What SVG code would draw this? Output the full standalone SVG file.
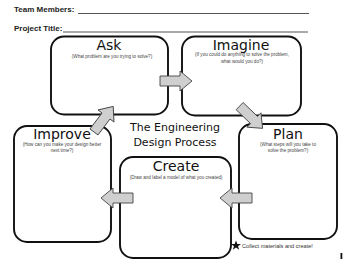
<svg xmlns="http://www.w3.org/2000/svg" width="350" height="268" viewBox="0 0 350 268">
<style>
.box{fill:#fff;stroke:#111;stroke-width:1.9}
.arr{fill:#cfcfcf;stroke:#444;stroke-width:0.9;stroke-linejoin:miter}
.hd{font-family:"Liberation Sans",Arial,sans-serif;font-size:8px;font-weight:bold;fill:#222}
.ttl{font-family:"DejaVu Sans","Liberation Sans",sans-serif;fill:#111;text-anchor:middle}
.sub{font-family:"Liberation Sans",Arial,sans-serif;font-size:4.6px;fill:#444;text-anchor:middle}
.ln{stroke:#555;stroke-width:1}
</style>
<defs>
<path id="ar" d="M0,-5 H-20 V5 H0 V10 L12,0 L0,-10 Z"/>
</defs>
<rect width="350" height="268" fill="#fff"/>
<g id="header">
<text class="hd" x="14" y="12">Team Members:</text>
<line class="ln" x1="78" y1="13.5" x2="309" y2="13.5"/>
<text class="hd" x="14" y="31">Project Title:</text>
<line class="ln" x1="63" y1="32" x2="308" y2="32"/>
</g>
<g id="ask">
<rect class="box" x="51" y="36.5" width="117" height="78" rx="13"/>
<text class="ttl" x="109" y="49.5" font-size="14">Ask</text>
<text class="sub" x="112" y="57.5">(What problem are you trying to solve?)</text>
</g>
<g id="imagine">
<rect class="box" x="182" y="36.5" width="119" height="79" rx="13"/>
<text class="ttl" x="241" y="49.5" font-size="14">Imagine</text>
<text class="sub" x="242" y="56">(If you could do anything to solve the problem,</text>
<text class="sub" x="242" y="62.5">what would you do?)</text>
</g>
<g id="improve">
<rect class="box" x="14" y="126" width="97" height="116" rx="13"/>
<text class="ttl" x="62" y="139" font-size="14">Improve</text>
<text class="sub" x="62" y="145.5">(How can you make your design better</text>
<text class="sub" x="62" y="151.5">next time?)</text>
</g>
<g id="plan">
<rect class="box" x="239" y="124" width="98" height="115" rx="13"/>
<text class="ttl" x="288" y="138.5" font-size="14">Plan</text>
<text class="sub" x="288" y="146">(What steps will you take to</text>
<text class="sub" x="288" y="152">solve the problem?)</text>
</g>
<g id="create">
<rect class="box" x="120" y="157" width="111" height="101" rx="13"/>
<text class="ttl" x="176" y="171" font-size="14">Create</text>
<text class="sub" x="176" y="178.5">(Draw and label a model of what you created)</text>
</g>
<g id="title">
<text class="ttl" x="175" y="131" font-size="11">The Engineering</text>
<text class="ttl" x="175" y="146" font-size="11">Design Process</text>
</g>
<g id="connectors">
<use href="#ar" class="arr" transform="translate(180,81)"/>
<use href="#ar" class="arr" transform="translate(254,120) rotate(44)"/>
<use href="#ar" class="arr" transform="translate(232,198) rotate(180)"/>
<use href="#ar" class="arr" transform="translate(113,198) rotate(180)"/>
<use href="#ar" class="arr" transform="translate(106,116) rotate(-53)"/>
</g>
<g id="note">
<polygon points="236,240.5 237.3,244 241,244 238,246.2 239.2,249.8 236,247.6 232.8,249.8 234,246.2 231,244 234.7,244" fill="#111"/>
<text x="242" y="247.5" font-family="'Liberation Sans',Arial,sans-serif" font-size="5.6" fill="#333">Collect materials and create!</text>
<rect x="340.5" y="253" width="1.8" height="6" fill="#111"/>
</g>
</svg>
